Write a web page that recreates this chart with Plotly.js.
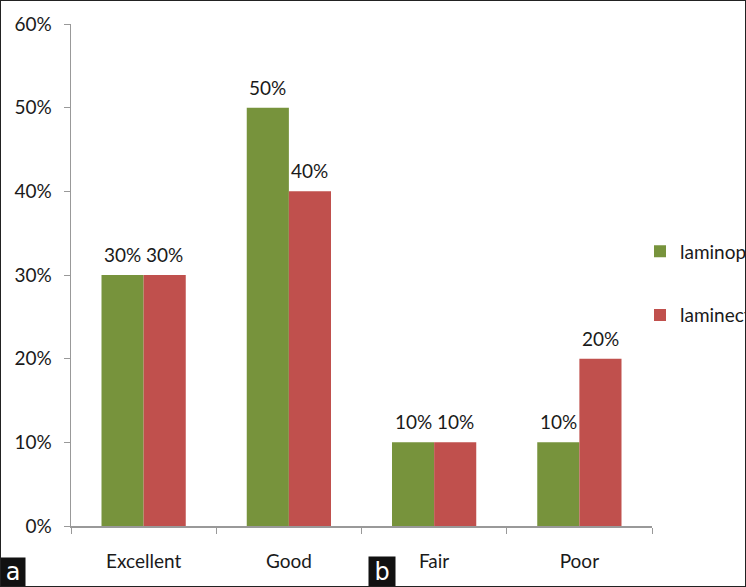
<!DOCTYPE html>
<html><head><meta charset="utf-8">
<script src="https://cdn.plot.ly/plotly-3.0.1.min.js"></script>
<style>html,body{margin:0;padding:0;overflow:hidden;background:#fff}#wrap{position:relative;width:746px;height:587px}#chart{width:746px;height:587px}#frame{position:absolute;left:0;top:0;width:744px;height:585px;border:1px solid #222;pointer-events:none}</style>
</head><body><div id="wrap"><div id="chart"></div><div id="frame"></div></div>
<script>
const categories = ["Excellent", "Good", "Fair", "Poor"];
const seriesNames = ["laminoplasty", "laminectomy"];
const laminoplasty = [0.30, 0.50, 0.10, 0.10];
const laminectomy = [0.30, 0.40, 0.10, 0.20];
const yTicks = [0, 0.1, 0.2, 0.3, 0.4, 0.5, 0.6];
const colors = ["#77933C", "#C0504D"];
const fnt = "Lato, 'Open Sans', sans-serif";
const FS = 19;
const BARGAP = 0.42;
const pct = v => Math.round(v*100) + "%";

function trace(vals, i){
  return {type:"bar", x:categories, y:vals, name:seriesNames[i], legendgroup:"g"+i,
    marker:{color:colors[i]}, hoverinfo:"none"};
}
const series = [laminoplasty, laminectomy];
const data = series.map((s,i)=>trace(s,i));

// value labels placed through the axes above each bar
const halfW = (1 - BARGAP) / 2;
const labelAnn = [];
series.forEach((vals, si) => {
  vals.forEach((v, ci) => {
    labelAnn.push({xref:"x", yref:"y", x: ci + (si === 0 ? -halfW/2 : halfW/2), y: v,
      text: pct(v), showarrow:false, yanchor:"bottom", yshift:7,
      font:{family:fnt, size:FS, color:"#1a1a1a"}});
  });
});

const layout = {
  width:746, height:587,
  margin:{l:71, r:94, t:24, b:61, autoexpand:false},
  paper_bgcolor:"#fff", plot_bgcolor:"#fff",
  barmode:"group", bargap:BARGAP, bargroupgap:0,
  font:{family:fnt, size:FS, color:"#1a1a1a"},
  xaxis:{showline:true, linecolor:"#999", linewidth:1.5, tickson:"boundaries",
    ticks:"outside", ticklen:6, tickcolor:"#999", ticklabelstandoff:18,
    tickfont:{family:fnt, size:FS, color:"#1a1a1a"}, showgrid:false, fixedrange:true},
  yaxis:{range:[0,0.6], tickvals:yTicks, ticktext:yTicks.map(pct),
    showline:true, linecolor:"#999", linewidth:1.5, ticks:"outside", ticklen:6,
    tickcolor:"#999", showgrid:false, zeroline:false, ticklabelstandoff:8,
    tickfont:{family:fnt, size:FS, color:"#1a1a1a"}},
  showlegend:true,
  legend:{x:(640-71)/581, xanchor:"left", y:0.585, yanchor:"top", traceorder:"grouped",
    tracegroupgap:36, font:{family:fnt, size:FS, color:"#1a1a1a"},
    itemwidth:30, bgcolor:"rgba(0,0,0,0)"},
  annotations: labelAnn.concat([
    {text:"a", xref:"paper", yref:"paper", x:-71/581, y:-61/502, xanchor:"left", yanchor:"bottom",
     showarrow:false, bgcolor:"#111", font:{family:"DejaVu Sans, sans-serif", size:24, color:"#fff"},
     width:22, height:26, borderpad:1},
    {text:"b", xref:"paper", yref:"paper", x:(368-71)/581, y:-61/502, xanchor:"left", yanchor:"bottom",
     showarrow:false, bgcolor:"#111", font:{family:"DejaVu Sans, sans-serif", size:24, color:"#fff"},
     width:24, height:27, borderpad:1}
  ])
};
Plotly.newPlot("chart", data, layout, {staticPlot:true});
</script></body></html>
